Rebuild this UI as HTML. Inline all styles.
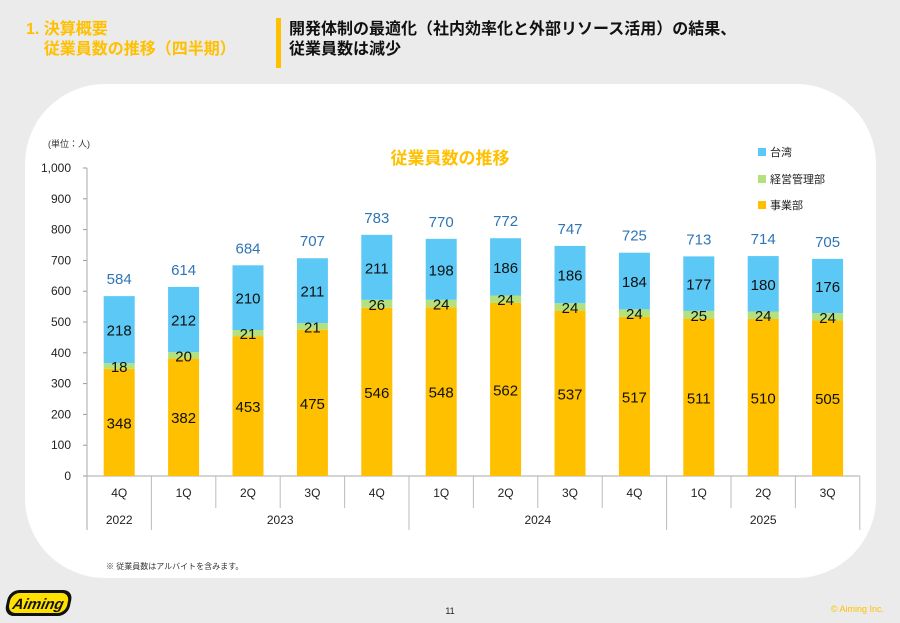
<!DOCTYPE html>
<html><head><meta charset="utf-8">
<style>
html,body{margin:0;padding:0;}
body{width:900px;height:623px;background:#ebebeb;position:relative;overflow:hidden;font-family:"Liberation Sans","Noto Sans CJK JP",sans-serif;}
.panel{position:absolute;left:25px;top:84px;width:851px;height:494px;background:#fff;border-radius:80px;}
.h1{position:absolute;left:26px;top:20px;color:#FFC000;font-weight:bold;font-size:16px;line-height:20px;}
.bar{position:absolute;left:276px;top:18px;width:5px;height:50px;background:#FFC000;}
.h2{position:absolute;left:289px;top:20px;color:#111;font-weight:bold;font-size:16px;line-height:20px;}
svg{position:absolute;left:0;top:0;}
text{font-family:"Liberation Sans","Noto Sans CJK JP",sans-serif;}
</style></head><body>
<div class="panel"></div>
<div class="h1">1. 決算概要<br>&nbsp;&nbsp;&nbsp;&nbsp;従業員数の推移（四半期）</div>
<div class="bar"></div>
<div class="h2">開発体制の最適化（社内効率化と外部リソース活用）の結果、<br>従業員数は減少</div>
<svg id="c" width="900" height="623" xmlns="http://www.w3.org/2000/svg">
<text x="48" y="147" font-size="9" fill="#333">(単位：人)</text>
<text x="450" y="164" font-size="17" font-weight="bold" fill="#FFC000" text-anchor="middle">従業員数の推移</text>
<rect x="758" y="148" width="8" height="8" fill="#5BC8F5"/><text x="770" y="156" font-size="11" fill="#222">台湾</text>
<rect x="758" y="175" width="8" height="8" fill="#B5E07E"/><text x="770" y="183" font-size="11" fill="#222">経営管理部</text>
<rect x="758" y="201" width="8" height="8" fill="#FFC000"/><text x="770" y="209" font-size="11" fill="#222">事業部</text>
<text x="106" y="569" font-size="8" fill="#333">※ 従業員数はアルバイトを含みます。</text>
<text x="450" y="614" font-size="9" fill="#222" text-anchor="middle">11</text>
<text x="884" y="612" font-size="9" fill="#FFC000" text-anchor="end">© Aiming Inc.</text>
<g transform="translate(6,587) skewX(-12)">
<rect x="4" y="3" width="64" height="26" rx="10" fill="#111"/>
<rect x="7" y="6" width="58" height="20" rx="8" fill="#FFE100"/>
<text x="36" y="22" font-size="15" font-weight="bold" font-style="italic" fill="#111" text-anchor="middle">Aiming</text>
</g>
</svg>
<script>
var s=document.getElementById('c'),NS='http://www.w3.org/2000/svg';
function el(t,a,txt){var e=document.createElementNS(NS,t);for(var k in a)e.setAttribute(k,a[k]);if(txt!==undefined)e.textContent=txt;s.appendChild(e);return e;}
var y0=476,k=0.308,x0=87,sw=64.4;
for(var i=0;i<=10;i++){var v=i*100,y=y0-v*k;el('line',{x1:x0-4,x2:x0,y1:y,y2:y,stroke:'#999','stroke-width':1});
el('text',{x:x0-16,y:y+4,'font-size':12,fill:'#222','text-anchor':'end'},i==10?'1,000':String(v));}
el('line',{x1:x0,x2:x0,y1:168,y2:530,stroke:'#aaa'});
el('line',{x1:x0,x2:x0+sw*12,y1:y0,y2:y0,stroke:'#aaa'});
var d=[[348,18,218,584],[382,20,212,614],[453,21,210,684],[475,21,211,707],[546,26,211,783],[548,24,198,770],[562,24,186,772],[537,24,186,747],[517,24,184,725],[511,25,177,713],[510,24,180,714],[505,24,176,705]];
var q=['4Q','1Q','2Q','3Q','4Q','1Q','2Q','3Q','4Q','1Q','2Q','3Q'];
for(var i=0;i<12;i++){var cx=x0+sw*(i+0.5),w=31,b=d[i];
var ya=y0-b[0]*k,yb=ya-b[1]*k,yc=yb-b[2]*k;
el('rect',{x:cx-w/2,y:ya,width:w,height:b[0]*k,fill:'#FFC000'});
el('rect',{x:cx-w/2,y:yb,width:w,height:b[1]*k,fill:'#B5E07E'});
el('rect',{x:cx-w/2,y:yc,width:w,height:b[2]*k,fill:'#5BC8F5'});
el('text',{x:cx,y:(ya+y0)/2+6,'font-size':15,fill:'#111','text-anchor':'middle'},b[0]);
el('text',{x:cx,y:(ya+yb)/2+6,'font-size':15,fill:'#111','text-anchor':'middle'},b[1]);
el('text',{x:cx,y:(yb+yc)/2+6,'font-size':15,fill:'#111','text-anchor':'middle'},b[2]);
el('text',{x:cx,y:yc-12,'font-size':15,fill:'#2E75B6','text-anchor':'middle'},b[3]);
el('text',{x:cx,y:497,'font-size':12,fill:'#222','text-anchor':'middle'},q[i]);
var xr=x0+sw*(i+1);var yr=(i==0||i==4||i==8||i==11)?530:508;
el('line',{x1:xr,x2:xr,y1:y0,y2:yr,stroke:'#bbb'});}
[['2022',0.5],['2023',3.0],['2024',7.0],['2025',10.5]].forEach(function(a){
el('text',{x:x0+sw*a[1],y:524,'font-size':12,fill:'#222','text-anchor':'middle'},a[0]);});
</script>
</body></html>
